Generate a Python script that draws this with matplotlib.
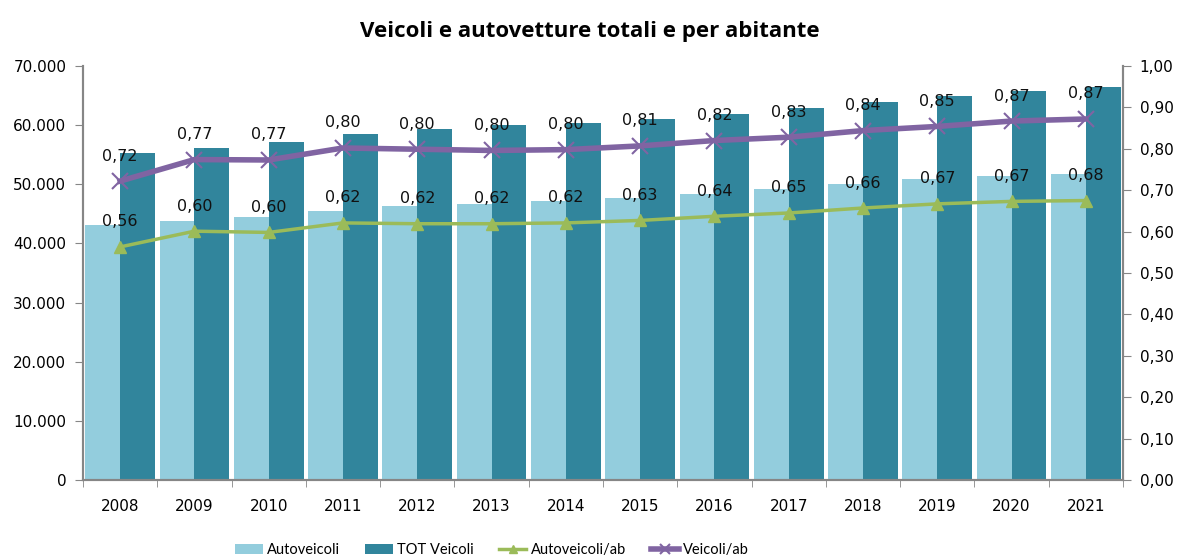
import numpy as np
import matplotlib.pyplot as plt

anni = ['2008', '2009', '2010', '2011', '2012', '2013', '2014', '2015',
        '2016', '2017', '2018', '2019', '2020', '2021']
autoveicoli = [43200, 43850, 44480, 45430, 46270, 46720, 47110, 47680,
               48360, 49200, 50040, 50890, 51450, 51730]
tot_veicoli = [55270, 56060, 57180, 58420, 59370, 60050, 60330, 61010,
               61900, 62860, 63980, 64940, 65780, 66510]
auto_ab = [0.563, 0.601, 0.598, 0.621, 0.619, 0.619, 0.621, 0.627,
           0.637, 0.645, 0.657, 0.667, 0.673, 0.675]
veicoli_ab = [0.722, 0.774, 0.773, 0.802, 0.799, 0.796, 0.798, 0.807,
              0.820, 0.828, 0.844, 0.854, 0.867, 0.872]

c_light = '#93CDDD'
c_dark = '#31859C'
c_green = '#9BBB59'
c_purple = '#8064A2'
c_axis = '#868686'

plt.rcParams['font.family'] = 'DejaVu Sans'

fig = plt.figure(figsize=(11.79, 5.58), dpi=100)
ax = fig.add_axes([83/1179, 1 - 480/558, (1123 - 83)/1179, (480 - 66)/558])
ax2 = ax.twinx()

x = np.arange(len(anni))
w = 0.47
ax.bar(x - w/2, autoveicoli, w, color=c_light, label='Autoveicoli', zorder=2)
ax.bar(x + w/2, tot_veicoli, w, color=c_dark, label='TOT Veicoli', zorder=2)

ax2.plot(x, auto_ab, color=c_green, lw=2.5, marker='^', ms=9,
         label='Autoveicoli/ab', zorder=3)
ax2.plot(x, veicoli_ab, color=c_purple, lw=4, marker='x', ms=11, mew=1.5,
         label='Veicoli/ab', zorder=3)

# etichette dati sopra i punti
for serie in (auto_ab, veicoli_ab):
    for xi, v in zip(x, serie):
        ax2.annotate(f'{v:.2f}'.replace('.', ','), (xi, v), xytext=(0, 18),
                     textcoords='offset points', ha='center', va='center',
                     fontsize=11.5, color='#111111')

ax.set_xlim(-0.5, len(anni) - 0.5)
ax.set_ylim(0, 70000)
ax2.set_ylim(0, 1.0)
ax.set_yticks(np.arange(0, 70001, 10000))
ax.set_yticklabels(['0' if t == 0 else f'{t:,}'.replace(',', '.')
                    for t in range(0, 70001, 10000)])
ax2.set_yticks(np.arange(0, 1.01, 0.1))
ax2.set_yticklabels([f'{t:.2f}'.replace('.', ',') for t in np.arange(0, 1.01, 0.1)])

ax.set_xticks(x)
ax.set_xticklabels(anni)
ax.set_xticks(np.arange(-0.5, len(anni), 1), minor=True)
ax.tick_params(axis='x', which='major', length=0, pad=14, labelsize=11)
ax.tick_params(axis='x', which='minor', length=5, color=c_axis, direction='out')
ax.tick_params(axis='y', length=6, color=c_axis, labelsize=11, pad=6)
ax2.tick_params(axis='y', length=6, color=c_axis, labelsize=11, pad=6)

for a in (ax, ax2):
    a.spines['top'].set_visible(False)
    for s in ('left', 'right', 'bottom'):
        a.spines[s].set_color(c_axis)
        a.spines[s].set_linewidth(1.5)

fig.text(0.5, 1 - 31/558, 'Veicoli e autovetture totali e per abitante',
         ha='center', va='center', fontsize=16, fontweight='bold',
         family='Open Sans')

h1, l1 = ax.get_legend_handles_labels()
h2, l2 = ax2.get_legend_handles_labels()
fig.legend(h1 + h2, l1 + l2, loc='center', ncol=4,
           bbox_to_anchor=(492/1179, 1 - 550/558), frameon=False,
           prop={'family': 'Lato', 'size': 10.5},
           columnspacing=1.7, handlelength=1.9, handletextpad=0.3,
           markerscale=0.7)

fig.savefig('out.png', dpi=100)
